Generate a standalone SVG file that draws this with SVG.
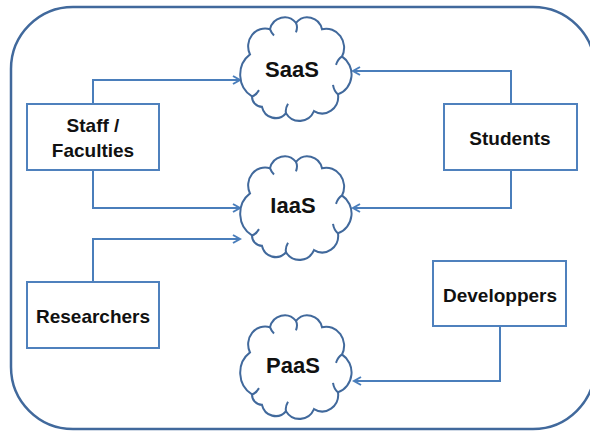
<svg xmlns="http://www.w3.org/2000/svg" width="590" height="432" viewBox="0 0 590 432">
<style>
.frame{fill:#fff;stroke:#41699c;stroke-width:2.5}
.box{fill:#fff;stroke:#4f81bd;stroke-width:2}
.cloud{fill:#fff;stroke:#41699c;stroke-width:2}
.inner{fill:none;stroke:#41699c;stroke-width:2}
.conn{fill:none;stroke:#4a7ebb;stroke-width:2}
.lbl{font-family:"Liberation Sans",Arial,sans-serif;font-weight:bold;font-size:19px;fill:#111;text-anchor:middle}
.cl{font-size:22px}
</style>
<defs>
<marker id="arr" markerWidth="10" markerHeight="10" refX="8" refY="5" orient="auto" markerUnits="userSpaceOnUse">
<path d="M1,1 L8,5 L1,9" fill="none" stroke="#4a7ebb" stroke-width="2"/>
</marker>
<g id="cloudShape">
<path class="cloud" d="M-44,28 A24,24 0 0 1 -46,-12 A17,17 0 0 1 -26,-36 A15,15 0 0 1 0,-42 A15,15 0 0 1 26,-36 A18,18 0 0 1 46,-10 A20,20 0 0 1 42,26 A16,16 0 0 1 18,42 A16,16 0 0 1 -10,44 A14,14 0 0 1 -34,38 A10,10 0 0 1 -44,28 Z"/>
<path class="inner" d="M-44,28 q4,-1 7,-6 M0,-42 q2,4 0,9 M46,-10 q-4,2 -6,8 M42,26 q-4,-3 -5,-9 M-10,44 q-1,-4 2,-9 M-26,-36 q1,3 4,6"/>
</g>
</defs>
<rect class="frame" x="11" y="7" width="584" height="422" rx="62" ry="62"/>
<g id="connectors">
<path class="conn" d="M93,104 V80 H240" marker-end="url(#arr)"/>
<path class="conn" d="M93,170 V208 H240" marker-end="url(#arr)"/>
<path class="conn" d="M93,282 V239 H240" marker-end="url(#arr)"/>
<path class="conn" d="M511,104 V71 H353" marker-end="url(#arr)"/>
<path class="conn" d="M511,170 V208 H353" marker-end="url(#arr)"/>
<path class="conn" d="M500,326 V381 H354" marker-end="url(#arr)"/>
</g>
<g id="saas">
<use href="#cloudShape" transform="translate(296,67) scale(1,1.05)"/>
<text class="lbl cl" x="292" y="77">SaaS</text>
</g>
<g id="iaas">
<use href="#cloudShape" transform="translate(296,206) scale(1,1.05)"/>
<text class="lbl cl" x="293" y="213">IaaS</text>
</g>
<g id="paas">
<use href="#cloudShape" transform="translate(296,365) scale(1,1.05)"/>
<text class="lbl cl" x="293" y="373">PaaS</text>
</g>
<g id="staff">
<rect class="box" x="27" y="104" width="132" height="66"/>
<text class="lbl" x="93" y="132">Staff /</text>
<text class="lbl" x="93" y="157">Faculties</text>
</g>
<g id="researchers">
<rect class="box" x="27" y="282" width="132" height="66"/>
<text class="lbl" x="93" y="323">Researchers</text>
</g>
<g id="students">
<rect class="box" x="444" y="104" width="133" height="66"/>
<text class="lbl" x="510" y="145">Students</text>
</g>
<g id="developpers">
<rect class="box" x="433" y="261" width="133" height="65"/>
<text class="lbl" x="500" y="302">Developpers</text>
</g>
</svg>
